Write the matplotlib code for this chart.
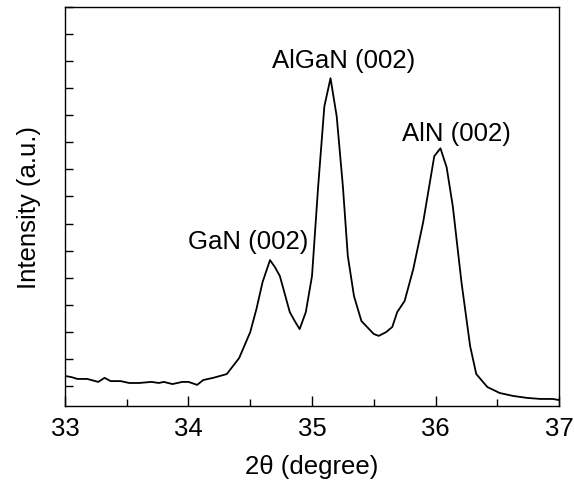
import matplotlib
matplotlib.use("Agg")
import matplotlib.pyplot as plt
from matplotlib.ticker import MultipleLocator, NullFormatter

plt.rcParams['font.family'] = ['Liberation Sans', 'DejaVu Sans']

# XRD scan (intensity in arbitrary units)
two_theta = [33.00, 33.05, 33.10, 33.18, 33.27, 33.32, 33.37, 33.45, 33.52, 33.60,
             33.70, 33.76, 33.80, 33.87, 33.95, 34.00, 34.07, 34.12, 34.20, 34.31,
             34.41, 34.50, 34.55, 34.60, 34.66, 34.70, 34.74, 34.82, 34.86, 34.90,
             34.95, 35.00, 35.05, 35.10, 35.15, 35.20, 35.25, 35.29, 35.34, 35.40,
             35.50, 35.54, 35.60, 35.65, 35.69, 35.75, 35.82, 35.90, 35.99, 36.04,
             36.09, 36.14, 36.21, 36.28, 36.33, 36.42, 36.52, 36.63, 36.74, 36.85,
             36.95, 37.00]
intensity = [0.37, 0.33, 0.26, 0.26, 0.15, 0.30, 0.18, 0.18, 0.11, 0.11,
             0.15, 0.11, 0.15, 0.07, 0.15, 0.15, 0.04, 0.22, 0.30, 0.44,
             1.03, 1.99, 2.84, 3.84, 4.65, 4.39, 4.06, 2.73, 2.40, 2.10,
             2.73, 4.06, 7.38, 10.33, 11.37, 9.96, 7.38, 4.80, 3.32, 2.40,
             1.92, 1.85, 1.99, 2.18, 2.73, 3.14, 4.32, 6.05, 8.49, 8.78,
             8.08, 6.64, 3.84, 1.48, 0.44, -0.04, -0.26, -0.37, -0.44, -0.48,
             -0.48, -0.52]

peak_labels = ["GaN (002)", "AlGaN (002)", "AlN (002)"]
label_x = [34.48, 35.26, 36.17]
label_y = [5.35, 12.03, 9.34]

fig = plt.figure(figsize=(5.74, 4.89), dpi=100)
ax = fig.add_axes([0.1132, 0.1677, 0.8607, 0.8159])

ax.plot(two_theta, intensity, color='black', lw=1.3)

for t, x, y in zip(peak_labels, label_x, label_y):
    ax.text(x, y, t, fontsize=18.5, ha='center', va='center')

ax.set_xlim(33, 37)
ax.set_ylim(-0.74, 14)
ax.xaxis.set_major_locator(MultipleLocator(1))
ax.xaxis.set_minor_locator(MultipleLocator(0.5))
ax.yaxis.set_major_locator(MultipleLocator(1))
ax.yaxis.set_major_formatter(NullFormatter())
ax.tick_params(axis='both', which='both', direction='in', width=1)
ax.tick_params(axis='x', which='major', length=7, labelsize=18.5, pad=7)
ax.tick_params(axis='x', which='minor', length=5)
ax.tick_params(axis='y', which='major', length=6)
for s in ax.spines.values():
    s.set_linewidth(1)

ax.set_xlabel("2\u03b8 (degree)", fontsize=18.5, labelpad=10)
ax.set_ylabel("Intensity (a.u.)", fontsize=18.5, labelpad=14)

fig.savefig("out.png", dpi=100)
